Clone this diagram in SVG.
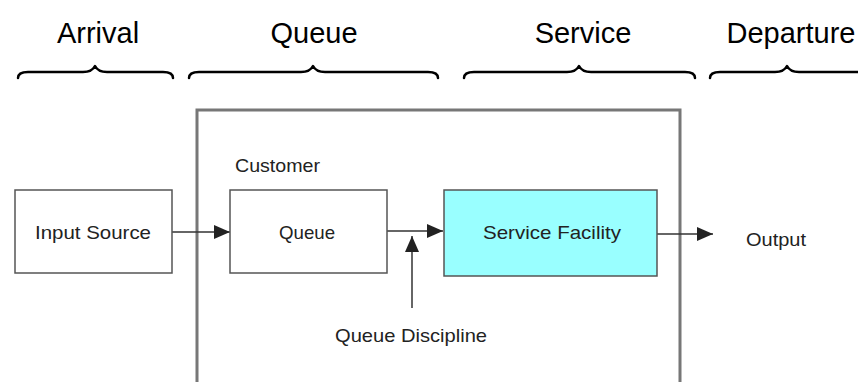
<svg xmlns="http://www.w3.org/2000/svg" width="858" height="382" viewBox="0 0 858 382">
<style>
.hdr{font-family:"Liberation Sans",Arial,sans-serif;font-size:29px;fill:#000;text-anchor:middle}
.lbl{font-family:"Liberation Sans",Arial,sans-serif;font-size:19px;fill:#222}
.brace{fill:none;stroke:#000;stroke-width:2.5;stroke-linecap:round;stroke-linejoin:round}
.box{fill:#fff;stroke:#555;stroke-width:1.5}
.conn{fill:none;stroke:#333;stroke-width:1.5}
</style>
<defs>
<marker id="ah" markerUnits="userSpaceOnUse" markerWidth="17" markerHeight="16" refX="16" refY="8" orient="auto">
<path d="M0,1 L16,8 L0,15 Z" fill="#222"/>
</marker>
</defs>
<rect width="858" height="382" fill="#fff"/>
<g id="headers">
<text class="hdr" x="98" y="43">Arrival</text>
<text class="hdr" x="314" y="43">Queue</text>
<text class="hdr" x="583" y="43">Service</text>
<text class="hdr" x="791" y="43">Departure</text>
</g>
<g id="braces">
<path class="brace" d="M18,78 Q18,72 28,72 L83,72 Q92,72 95,66 Q98,72 107,72 L163,72 Q173,72 173,78"/>
<path class="brace" d="M189,78 Q189,72 199,72 L301,72 Q310,72 313,66 Q316,72 325,72 L428,72 Q438,72 438,78"/>
<path class="brace" d="M464,78 Q464,72 474,72 L567,72 Q576,72 579,66 Q582,72 591,72 L685,72 Q695,72 695,78"/>
<path class="brace" d="M710,78 Q710,72 720,72 L775,72 Q784,72 787,66 Q790,72 799,72 L858,72 Q868,72 868,78"/>
</g>
<g id="system">
<path d="M197,385 L197,110 L680,110 L680,385" fill="none" stroke="#777" stroke-width="3"/>
</g>
<g id="connectors">
<line class="conn" x1="172" y1="232" x2="230" y2="232" marker-end="url(#ah)"/>
<line class="conn" x1="387" y1="231" x2="443" y2="231" marker-end="url(#ah)"/>
<line class="conn" x1="412" y1="308" x2="412" y2="236" marker-end="url(#ah)"/>
<line class="conn" x1="657" y1="234" x2="713" y2="234" marker-end="url(#ah)"/>
</g>
<g id="input-source">
<rect class="box" x="15" y="190" width="157" height="83"/>
<text class="lbl" x="35" y="239" textLength="116" lengthAdjust="spacingAndGlyphs">Input Source</text>
</g>
<g id="customer">
<text class="lbl" x="235" y="172" textLength="85" lengthAdjust="spacingAndGlyphs">Customer</text>
</g>
<g id="queue">
<rect class="box" x="230" y="190" width="157" height="83"/>
<text class="lbl" x="279" y="239" textLength="56" lengthAdjust="spacingAndGlyphs">Queue</text>
</g>
<g id="service-facility">
<rect x="444" y="190" width="213" height="86" fill="#99ffff" stroke="#555" stroke-width="1.5"/>
<text class="lbl" x="483" y="239" textLength="138" lengthAdjust="spacingAndGlyphs">Service Facility</text>
</g>
<g id="queue-discipline">
<text class="lbl" x="335" y="342" textLength="152" lengthAdjust="spacingAndGlyphs">Queue Discipline</text>
</g>
<g id="output">
<text class="lbl" x="746" y="246" textLength="60" lengthAdjust="spacingAndGlyphs">Output</text>
</g>
</svg>
